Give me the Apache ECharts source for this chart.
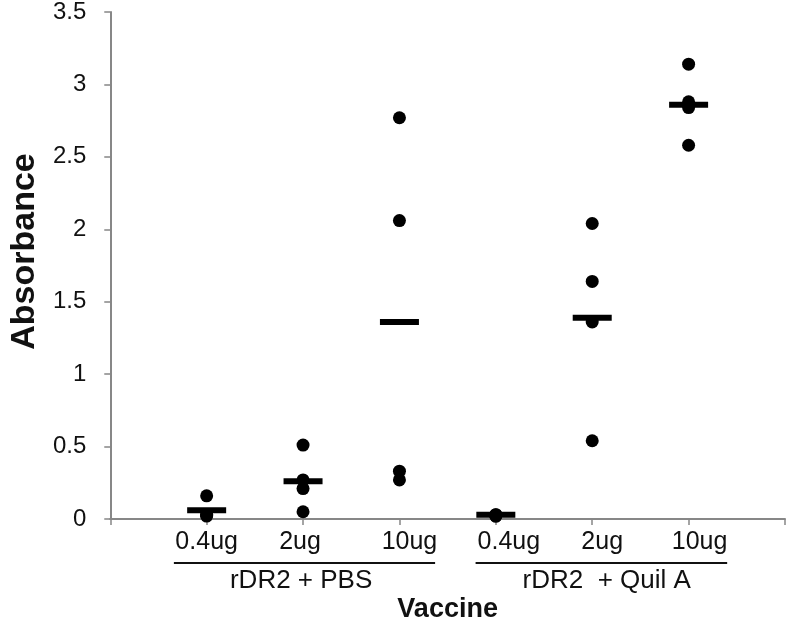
<!DOCTYPE html>
<html>
<head>
<meta charset="utf-8">
<script src="https://cdn.jsdelivr.net/npm/echarts@6/dist/echarts.min.js"></script>
<style>
  html, body { margin: 0; padding: 0; background: #fff; }
  #main { width: 788px; height: 628px; }
</style>
</head>
<body>
<div id="main"></div>
<script>
// dose labels at x = 1..6
const doses = ['0.4ug', '2ug', '10ug', '0.4ug', '2ug', '10ug'];
const groups = ['rDR2 + PBS', 'rDR2  + Quil A'];
const yTicks = [0, 0.5, 1, 1.5, 2, 2.5, 3, 3.5];

// individual absorbance values, one array per vaccine group
const pbs04 = [0.16, 0.03, 0.02, 0.03];
const pbs2 = [0.51, 0.27, 0.21, 0.05];
const pbs10 = [2.77, 2.06, 0.33, 0.27];
const quil04 = [0.03, 0.02, 0.03, 0.02];
const quil2 = [2.04, 1.64, 1.36, 0.54];
const quil10 = [3.14, 2.88, 2.84, 2.58];

// mean markers
const means = [0.06, 0.26, 1.36, 0.03, 1.39, 2.86];

const sets = [pbs04, pbs2, pbs10, quil04, quil2, quil10];
const points = [];
sets.forEach(function (vals, i) {
  vals.forEach(function (v) { points.push([i + 1, v]); });
});
const meanPts = means.map(function (v, i) { return [i + 1, v]; });

const font = 'Liberation Sans, Arial, sans-serif';
const axisGray = '#878787';
const ink = '#111';
// the dose texts sit a little right of their ticks in the original
const nudge = [0, -3, 10, 13, 10, 11];

const rich = {};
nudge.forEach(function (d, i) {
  rich['d' + i] = {
    fontFamily: font, fontSize: 25, color: ink,
    padding: d >= 0 ? [0, 0, 0, 2 * d] : [0, -2 * d, 0, 0]
  };
});

let myChart = echarts.init(document.getElementById('main'));
let option = {
  animation: false,
  grid: { left: 99, top: 10, width: 687, height: 515, containLabel: false },
  xAxis: {
    type: 'value',
    min: 0,
    max: 7,
    interval: 1,
    splitLine: { show: false },
    axisLine: { lineStyle: { color: axisGray, width: 2 } },
    axisTick: { show: true, inside: false, length: 6, lineStyle: { color: axisGray, width: 1.5 } },
    axisLabel: {
      margin: 11,
      fontFamily: font,
      fontSize: 25,
      color: ink,
      formatter: function (v) {
        const s = doses[v - 1];
        if (!s) return '';
        return '{d' + (v - 1) + '|' + s + '}';
      },
      rich: rich
    },
    name: 'Vaccine',
    nameLocation: 'middle',
    nameGap: 77,
    nameTextStyle: { fontFamily: font, fontSize: 27, fontWeight: 'bold', color: ink }
  },
  yAxis: {
    type: 'value',
    min: 0,
    max: 3.5,
    interval: 0.5,
    splitLine: { show: false },
    axisLine: { show: true, lineStyle: { color: axisGray, width: 2 } },
    axisTick: { show: true, inside: false, length: 6, lineStyle: { color: axisGray, width: 1.5 } },
    axisLabel: {
      margin: 24,
      fontFamily: font,
      fontSize: 24,
      color: ink,
      formatter: function (v) { return yTicks.indexOf(v) >= 0 ? String(v) : ''; }
    },
    name: 'Absorbance',
    nameLocation: 'middle',
    nameGap: 65,
    nameRotate: 90,
    nameTextStyle: { fontFamily: font, fontSize: 34, fontWeight: 'bold', color: ink, padding: [0, 0, 0, 28] }
  },
  series: [
    {
      name: 'mean',
      type: 'scatter',
      data: meanPts,
      symbol: 'rect',
      symbolSize: [39, 6],
      itemStyle: { color: '#000', opacity: 1 },
      z: 2
    },
    {
      name: 'values',
      type: 'scatter',
      data: points,
      symbol: 'circle',
      symbolSize: 13,
      itemStyle: { color: '#000', opacity: 1 },
      z: 3
    }
  ]
};
myChart.setOption(option);

// group underlines and group labels, placed through the x scale
function px(x, y) { return myChart.convertToPixel({ gridIndex: 0 }, [x, y]); }
const spans = [[1 - 0.34, 3 + 0.37], [4 - 0.21, 6 + 0.40]];
const centres = [1.98, 5.15];
const graphics = [];
spans.forEach(function (r, i) {
  const a = px(r[0], 0);
  const b = px(r[1], 0);
  graphics.push({
    type: 'line',
    shape: { x1: a[0], y1: 563, x2: b[0], y2: 563 },
    style: { stroke: ink, lineWidth: 2 }
  });
  const c = px(centres[i], 0);
  graphics.push({
    type: 'text',
    x: c[0],
    y: 581,
    style: {
      text: groups[i],
      fontFamily: font,
      fontSize: 26,
      fill: ink,
      align: 'center',
      verticalAlign: 'middle'
    }
  });
});
myChart.setOption({ graphic: graphics });
</script>
</body>
</html>
